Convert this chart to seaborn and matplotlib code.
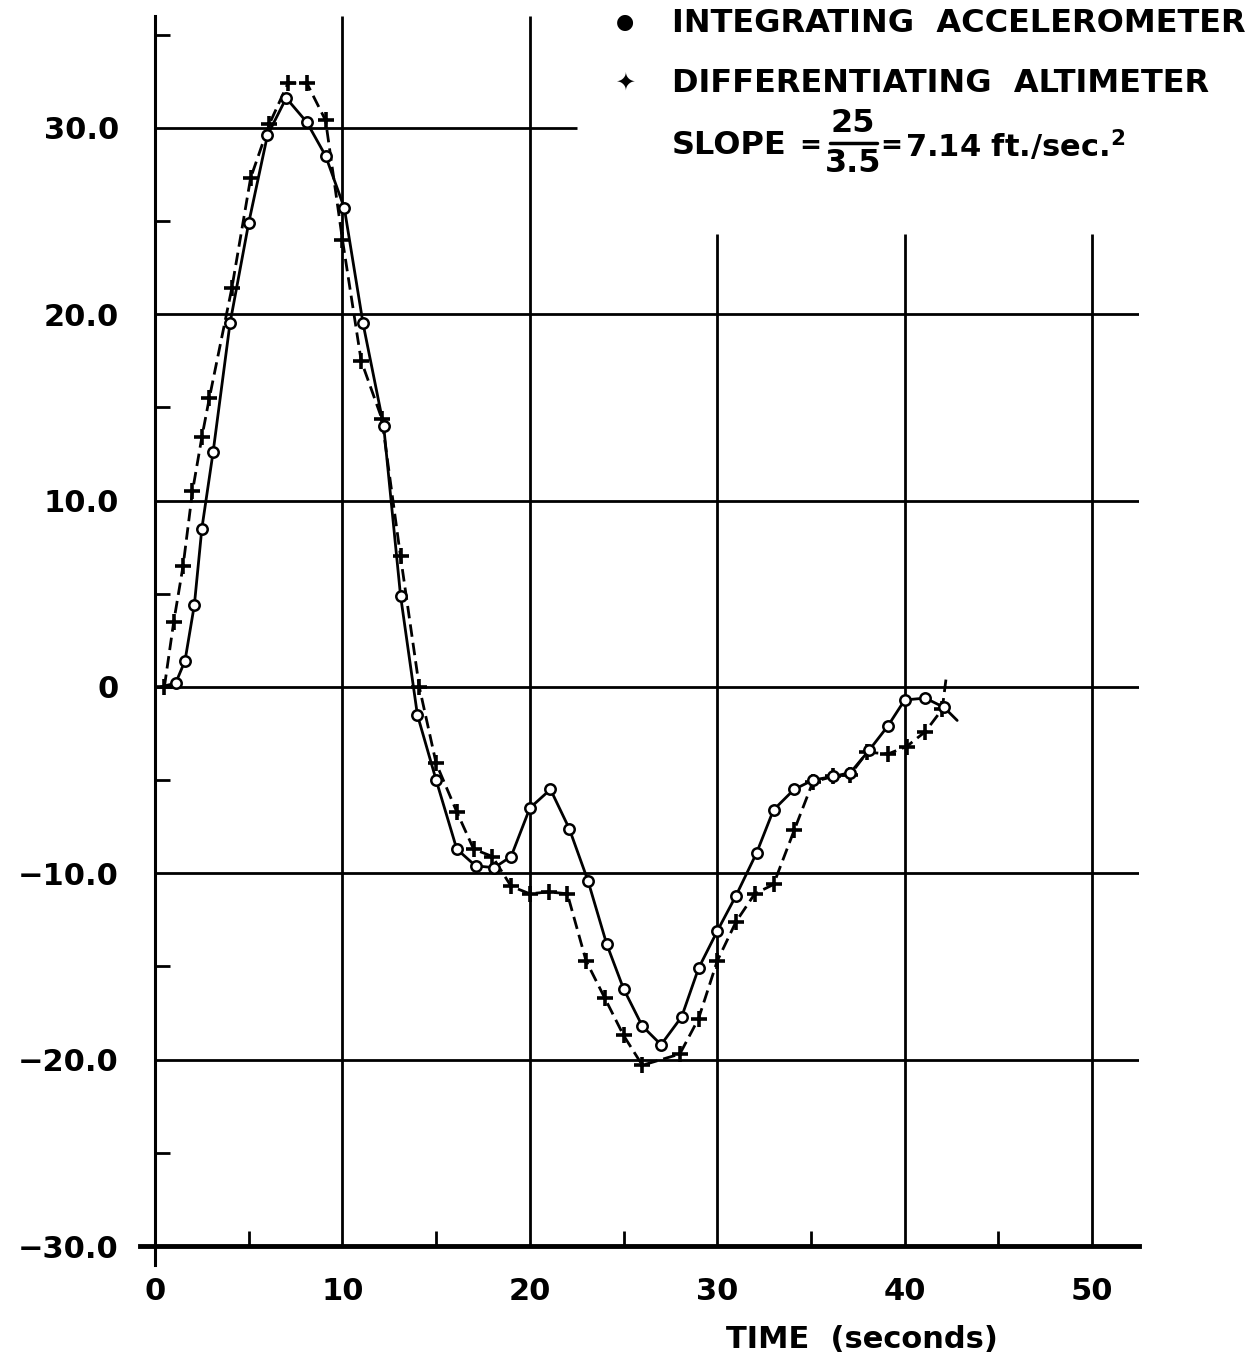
import numpy as np
import pandas as pd
import matplotlib
matplotlib.use("Agg")
import matplotlib.pyplot as plt
import seaborn as sns

# ---- data ----
# integrating accelerometer (open circles, solid line)
acc_t = [1.1, 1.6, 2.1, 2.5, 3.1, 4.0, 5.0, 6.0, 7.0, 8.1, 9.1, 10.1, 11.1, 12.2,
         13.1, 14.0, 15.0, 16.1, 17.1, 18.1, 19.0, 20.0, 21.1, 22.1, 23.1, 24.1,
         25.0, 26.0, 27.0, 28.1, 29.0, 30.0, 31.0, 32.1, 33.0, 34.1, 35.1, 36.2,
         37.1, 38.1, 39.1, 40.0, 41.1, 42.1]
acc_v = [0.2, 1.4, 4.4, 8.5, 12.6, 19.5, 24.9, 29.6, 31.6, 30.3, 28.5, 25.7, 19.5, 14.0,
         4.9, -1.5, -5.0, -8.7, -9.6, -9.7, -9.1, -6.5, -5.5, -7.6, -10.4, -13.8,
         -16.2, -18.2, -19.2, -17.7, -15.1, -13.1, -11.2, -8.9, -6.6, -5.5, -5.0, -4.8,
         -4.6, -3.4, -2.1, -0.7, -0.6, -1.1]
# ends of the faired solid curve (no symbol)
acc_start = (0.3, 0.0)
acc_end = (42.8, -1.8)

# differentiating altimeter (crosses, dashed line)
alt_t = [0.5, 1.0, 1.5, 2.0, 2.5, 2.9, 4.1, 5.1, 6.1, 7.1, 8.1, 9.1, 10.0, 11.0,
         12.1, 13.1, 14.1, 15.0, 16.1, 17.0, 18.0, 19.0, 20.0, 21.0, 22.0, 23.0,
         24.0, 25.0, 26.0, 28.0, 29.0, 30.0, 31.0, 32.0, 33.0, 34.1, 35.1, 36.2,
         37.1, 38.0, 39.1, 40.1, 41.1, 42.0]
alt_v = [0.0, 3.5, 6.5, 10.5, 13.4, 15.5, 21.4, 27.3, 30.2, 32.4, 32.4, 30.4, 24.0, 17.5,
         14.4, 7.0, 0.0, -4.1, -6.7, -8.7, -9.1, -10.7, -11.1, -11.0, -11.1, -14.7,
         -16.7, -18.7, -20.3, -19.7, -17.8, -14.7, -12.6, -11.1, -10.6, -7.7, -5.1, -4.8,
         -4.7, -3.5, -3.6, -3.2, -2.4, -1.2]
alt_end = (42.2, 0.4)

x_ticks = [0, 10, 20, 30, 40, 50]
y_ticks = [30, 20, 10, 0, -10, -20, -30]
y_labels = ["30.0", "20.0", "10.0", "0", "\u221210.0", "\u221220.0", "\u221230.0"]
x_minor = [5, 15, 25, 35, 45]
y_minor = [35, 25, 15, 5, -5, -15, -25]

sns.set_style("white")
plt.rcParams['font.family'] = ['DejaVu Sans']
plt.rcParams['font.weight'] = 'bold'
for k in ["text.color", "axes.edgecolor", "xtick.color", "ytick.color", "axes.labelcolor"]:
    plt.rcParams[k] = "black"

fig = plt.figure(figsize=(12.6, 13.59), dpi=100)
ax = fig.add_axes([155 / 1260, (1359 - 1246) / 1359, (1139 - 155) / 1260, (1246 - 16) / 1359])
ax.set_xlim(0, 52.5)
ax.set_ylim(-30, 36)

# grid drawn by hand because the legend block interrupts some lines
full_h = [20, 10, 0, -10, -20]
ax.hlines(full_h, 0, 52.5, color="black", lw=2.0, zorder=1)
ax.hlines([30], 0, 22.5, color="black", lw=2.0, zorder=1)
ax.vlines([10, 20], -30, 36, color="black", lw=2.0, zorder=1)
ax.vlines([30, 40, 50], -30, 24.3, color="black", lw=2.0, zorder=1)

acc_df = pd.DataFrame({"t": [acc_start[0]] + acc_t + [acc_end[0]],
                       "v": [acc_start[1]] + acc_v + [acc_end[1]]})
alt_df = pd.DataFrame({"t": alt_t + [alt_end[0]], "v": alt_v + [alt_end[1]]})

sns.lineplot(data=acc_df, x="t", y="v", ax=ax, color="black", lw=2.0,
             marker="o", markersize=7.5, markerfacecolor="white",
             markeredgecolor="black", markeredgewidth=1.8,
             markevery=slice(1, len(acc_df) - 1), zorder=4, sort=False)
sns.lineplot(data=alt_df, x="t", y="v", ax=ax, color="black", lw=2.0,
             linestyle=(0, (4.5, 2.2)), marker="+", markersize=11,
             markeredgecolor="black", markeredgewidth=2.6,
             markevery=slice(0, len(alt_df) - 1), zorder=3, sort=False)

# axes styling
for s in ["top", "right"]:
    ax.spines[s].set_visible(False)
ax.spines["left"].set_linewidth(2.2)
ax.spines["left"].set_bounds(-31, 36)
ax.spines["bottom"].set_linewidth(3.5)
ax.spines["bottom"].set_bounds(-0.8, 52.5)

ax.set_xticks(x_ticks)
ax.set_xticklabels([str(v) for v in x_ticks])
ax.set_yticks(y_ticks)
ax.set_yticklabels(y_labels)
ax.set_xticks(x_minor, minor=True)
ax.set_yticks(y_minor, minor=True)
ax.tick_params(bottom=True, left=True, which="both")
ax.tick_params(axis="both", which="major", length=0, labelsize=22)
ax.tick_params(axis="x", which="major", pad=22)
ax.tick_params(axis="y", which="major", pad=26)
ax.tick_params(axis="both", which="minor", direction="in", length=11, width=2,
               color="black")
for lab in ax.get_xticklabels() + ax.get_yticklabels():
    lab.set_fontweight("bold")
ax.set_xlabel("")
ax.set_ylabel("")

fig.text(862 / 1260, 1 - 1340 / 1359, "TIME  (seconds)", ha="center", va="center",
         fontsize=22, fontweight="bold")

# legend block
fs = 23
fig.text(625 / 1260, 1 - 22 / 1359, "\u25cf", ha="center", va="center", fontsize=15)
fig.text(672 / 1260, 1 - 23 / 1359, "INTEGRATING  ACCELEROMETER", ha="left", va="center",
         fontsize=fs, fontweight="bold")
fig.text(625 / 1260, 1 - 82 / 1359, "\u2726", ha="center", va="center", fontsize=17)
fig.text(672 / 1260, 1 - 83 / 1359, "DIFFERENTIATING  ALTIMETER", ha="left", va="center",
         fontsize=fs, fontweight="bold")
fig.text(672 / 1260, 1 - 146 / 1359, "SLOPE", ha="left", va="center",
         fontsize=fs, fontweight="bold")
fig.text(810 / 1260, 1 - 146 / 1359, "=", ha="center", va="center",
         fontsize=fs - 4, fontweight="bold")
fig.text(853 / 1260, 1 - 123 / 1359, "25", ha="center", va="center",
         fontsize=fs, fontweight="bold")
fig.text(853 / 1260, 1 - 163 / 1359, "3.5", ha="center", va="center",
         fontsize=fs, fontweight="bold")
fig.add_artist(plt.Line2D([830 / 1260, 877 / 1260], [1 - 143 / 1359, 1 - 143 / 1359],
                          color="black", lw=2.5))
fig.text(891 / 1260, 1 - 146 / 1359, "=", ha="center", va="center",
         fontsize=fs - 4, fontweight="bold")
fig.text(905 / 1260, 1 - 146 / 1359, "7.14 ft./sec.$^{\\mathbf{2}}$", ha="left",
         va="center", fontsize=fs - 1, fontweight="bold")

fig.savefig("out.png", dpi=100)
